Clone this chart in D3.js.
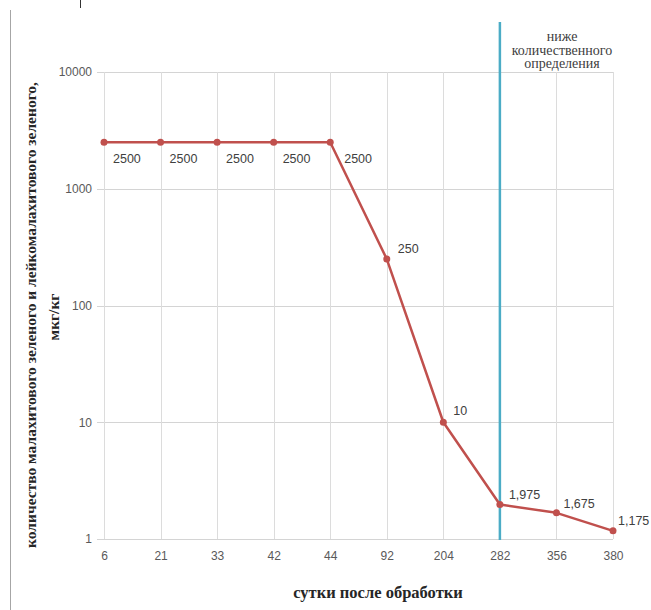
<!DOCTYPE html>
<html lang="ru">
<head>
    <meta charset="UTF-8">
    <title>Chart</title>
    <style>
        body { margin: 0; background: #fff; }
        svg { display: block; }
    </style>
</head>
<body>
    <div id="chart"></div>
    <script src="https://cdn.jsdelivr.net/npm/d3@7"></script>
    <script>
        const days = ['6', '21', '33', '42', '44', '92', '204', '282', '356', '380']
        const amount = [2500, 2500, 2500, 2500, 2500, 250, 10, 1.975, 1.675, 1.175]
        const yTicks = [1, 10, 100, 1000, 10000]
        const limitDay = '282'
        const limitText = ['ниже', 'количественного', 'определения']
        const yTitle = ['количество малахитового зеленого и лейкомалахитового зеленого,', 'мкг/кг']
        const xTitle = 'сутки после обработки'

        // label offsets (dx, dy) relative to the point
        const labelOff = [[9, 21], [9, 21], [9, 21], [9, 21], [14, 21],
                          [11, -6], [10, -7], [9, -5], [7, -5], [5, -6]]

        const w = 651, h = 610
        const plotL = 104, plotR = 613, plotT = 72, plotB = 539

        const svg = d3.select('#chart').append('svg')
            .attr('width', w)
            .attr('height', h)

        // frame bits of the scanned page
        svg.append('line')
            .attr('x1', 10.5).attr('x2', 10.5).attr('y1', 10).attr('y2', h)
            .attr('stroke', '#a6a6a6').attr('stroke-width', 1)
        svg.append('line')
            .attr('x1', 80.5).attr('x2', 80.5).attr('y1', 0).attr('y2', 8)
            .attr('stroke', '#333').attr('stroke-width', 1)

        const x = d3.scalePoint().domain(days).range([plotL, plotR])
        const y = d3.scaleLog().domain([1, 10000]).range([plotB, plotT])

        //gridlines
        svg.append('g').selectAll('line')
            .data(yTicks).enter().append('line')
            .attr('x1', plotL - 7).attr('x2', plotR)
            .attr('y1', d => Math.round(y(d)) + 0.5).attr('y2', d => Math.round(y(d)) + 0.5)
            .attr('stroke', '#d4d4d4')
        svg.append('g').selectAll('line')
            .data(days).enter().append('line')
            .attr('x1', d => Math.round(x(d)) + 0.5).attr('x2', d => Math.round(x(d)) + 0.5)
            .attr('y1', plotT).attr('y2', plotB)
            .attr('stroke', '#dcdcdc')

        //axes
        const yAxis = d3.axisLeft(y).tickValues(yTicks).tickFormat(d3.format('d')).tickSize(0).tickPadding(12)
        const gy = svg.append('g').attr('transform', `translate(${plotL}, 0)`).call(yAxis)
        const xAxis = d3.axisBottom(x).tickSize(0).tickPadding(12)
        const gx = svg.append('g').attr('transform', `translate(0, ${plotB})`).call(xAxis)
        for (const g of [gx, gy]) {
            g.select('.domain').remove()
            g.selectAll('text')
                .attr('fill', '#595959')
                .style('font-family', 'Liberation Sans, Arial, sans-serif')
                .style('font-size', '12px')
        }

        // limit of quantification line
        svg.append('line')
            .attr('x1', x(limitDay)).attr('x2', x(limitDay))
            .attr('y1', 22).attr('y2', plotB + 1)
            .attr('stroke', '#4bacc6').attr('stroke-width', 2.5)

        svg.append('text')
            .attr('x', 562).attr('y', 41)
            .attr('text-anchor', 'middle')
            .attr('fill', '#404040')
            .style('font-family', '"Liberation Serif", "Times New Roman", serif')
            .style('font-size', '14px')
            .selectAll('tspan').data(limitText).enter().append('tspan')
            .attr('x', 562).attr('dy', (d, i) => i ? 13.5 : 0)
            .text(d => d)

        //series
        const line = d3.line().x((d, i) => x(days[i])).y(d => y(d))
        svg.append('path')
            .datum(amount)
            .attr('d', line)
            .attr('fill', 'none')
            .attr('stroke', '#c0504d')
            .attr('stroke-width', 2.5)
            .attr('stroke-linejoin', 'round')

        svg.selectAll('circle')
            .data(amount).enter().append('circle')
            .attr('cx', (d, i) => x(days[i]))
            .attr('cy', d => y(d))
            .attr('r', 3.5)
            .attr('fill', '#c0504d')

        svg.append('g').selectAll('text')
            .data(amount).enter().append('text')
            .attr('x', (d, i) => x(days[i]) + labelOff[i][0])
            .attr('y', (d, i) => y(d) + labelOff[i][1])
            .attr('fill', '#404040')
            .style('font-family', 'Liberation Sans, Arial, sans-serif')
            .style('font-size', '12.5px')
            .text(d => String(d).replace('.', ','))

        //titles
        svg.append('text')
            .attr('x', 378).attr('y', 598)
            .attr('text-anchor', 'middle')
            .attr('fill', '#262626')
            .style('font-family', '"Liberation Serif", "Times New Roman", serif')
            .style('font-weight', 'bold')
            .style('font-size', '16.5px')
            .text(xTitle)

        const yt = svg.append('text')
            .attr('transform', 'translate(0, 315) rotate(-90)')
            .attr('text-anchor', 'middle')
            .attr('fill', '#262626')
            .style('font-family', '"Liberation Serif", "Times New Roman", serif')
            .style('font-weight', 'bold')
            .style('font-size', '15.5px')
        yt.selectAll('tspan').data(yTitle).enter().append('tspan')
            .attr('x', (d, i) => i ? -2 : 0)
            .attr('y', (d, i) => i ? 59 : 36)
            .text(d => d)
    </script>
</body>
</html>
